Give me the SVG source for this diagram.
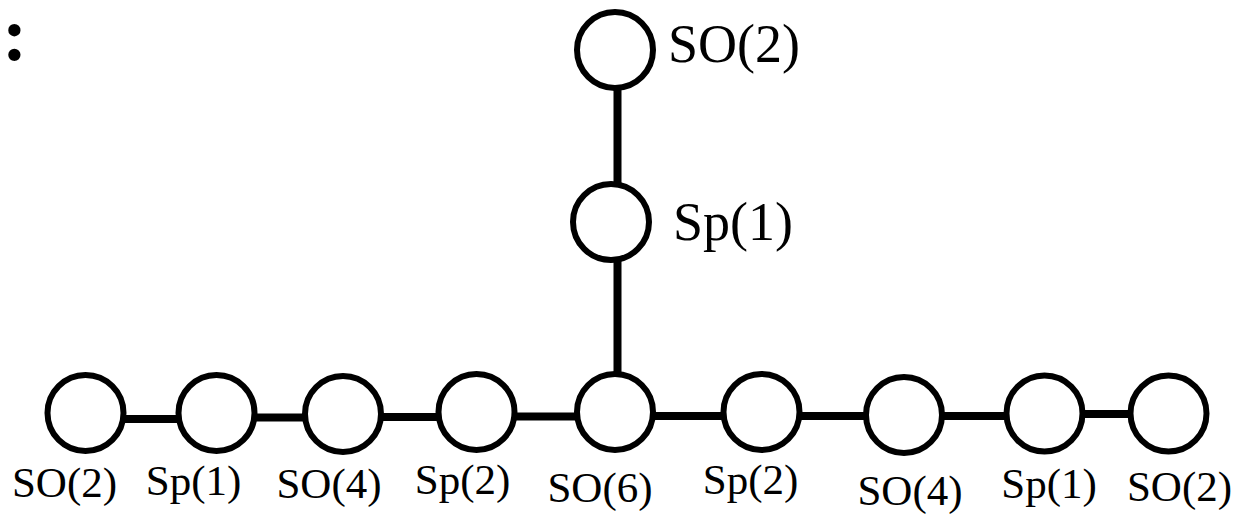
<svg xmlns="http://www.w3.org/2000/svg" width="1234" height="519" viewBox="0 0 1234 519">
<style>
.n{fill:#fff;stroke:#000;stroke-width:6}
.e{stroke:#000;stroke-width:8;fill:none}
.l{font-family:"Liberation Serif","Times New Roman",serif;fill:#000}
.b{font-size:43px;text-anchor:middle}
.t{font-size:54px}
</style>
<rect width="1234" height="519" fill="#fff"/>
<text class="l" x="2" y="60" font-size="76" font-weight="bold">:</text>
<g id="edges">
<line class="e" x1="617.5" y1="88" x2="617.5" y2="185"/>
<line class="e" x1="617.5" y1="259" x2="617.5" y2="372"/>
<line class="e" x1="124" y1="419" x2="178" y2="419"/>
<line class="e" x1="255" y1="417.5" x2="304" y2="417.5"/>
<line class="e" x1="382" y1="417" x2="437" y2="417"/>
<line class="e" x1="515" y1="416.5" x2="576" y2="416.5"/>
<line class="e" x1="654" y1="416" x2="723" y2="416"/>
<line class="e" x1="800" y1="416" x2="865" y2="416"/>
<line class="e" x1="943" y1="416" x2="1006" y2="416"/>
<line class="e" x1="1083" y1="414" x2="1130" y2="414"/>
</g>
<g id="top"><circle class="n" cx="615" cy="50" r="38"/><text class="l t" x="668" y="62">SO(2)</text></g>
<g id="mid"><circle class="n" cx="611" cy="222" r="38"/><text class="l t" x="673" y="240">Sp(1)</text></g>
<g id="n1"><circle class="n" cx="85.5" cy="413" r="38"/><text class="l b" x="64.5" y="497">SO(2)</text></g>
<g id="n2"><circle class="n" cx="216.5" cy="413" r="38"/><text class="l b" x="193.5" y="495">Sp(1)</text></g>
<g id="n3"><circle class="n" cx="343" cy="414" r="38"/><text class="l b" x="329" y="498">SO(4)</text></g>
<g id="n4"><circle class="n" cx="476.5" cy="412" r="38"/><text class="l b" x="462.5" y="494">Sp(2)</text></g>
<g id="n5"><circle class="n" cx="615" cy="412" r="38"/><text class="l b" x="600" y="502">SO(6)</text></g>
<g id="n6"><circle class="n" cx="761.5" cy="412" r="38"/><text class="l b" x="750.5" y="494">Sp(2)</text></g>
<g id="n7"><circle class="n" cx="904" cy="415" r="38"/><text class="l b" x="910" y="505">SO(4)</text></g>
<g id="n8"><circle class="n" cx="1044.5" cy="413.5" r="38"/><text class="l b" x="1049" y="498">Sp(1)</text></g>
<g id="n9"><circle class="n" cx="1168.5" cy="413.5" r="38"/><text class="l b" x="1179.5" y="501">SO(2)</text></g>
</svg>
